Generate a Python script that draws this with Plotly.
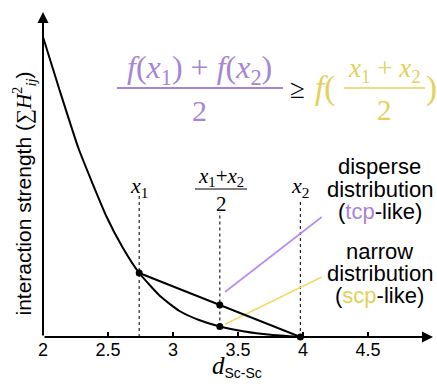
import plotly.graph_objects as go

# ---- data ----
d_curve = [2.0, 2.12, 2.275, 2.49, 2.615, 2.74, 2.9, 3.05, 3.2, 3.36, 3.55, 3.75, 3.98]
strength = [300, 250, 188, 120, 89, 64, 41, 26, 17, 10.5, 5.5, 2.2, 0]

x1 = 2.74
x2 = 3.98
f_x1 = 64
f_x2 = 0
f_mid = 10.5

x_ticks = [2, 2.5, 3, 3.5, 4, 4.5]
x_tick_text = ["2", "2.5", "3", "3.5", "4", "4.5"]

purple_leader_x = [3.40, 4.144]
purple_leader_y = [45, 120]
yellow_leader_x = [3.40, 4.144]
yellow_leader_y = [12.7, 60]

x_mid = (x1 + x2) / 2
chord_mid = (f_x1 + f_x2) / 2

PURPLE = "#a685d6"
YELLOW = "#e2d15a"
SANS = "Liberation Sans"
SERIF = "Liberation Serif"

fig = go.Figure()

# dotted guide lines
for xv, top, bottom in [(x1, 144, 0), (x_mid, 125, f_mid), (x2, 137, 0)]:
    fig.add_trace(go.Scatter(x=[xv, xv], y=[bottom, top], mode="lines",
                             line=dict(color="#222", width=1.2, dash="dot"),
                             hoverinfo="skip", cliponaxis=False))

# leader lines
fig.add_trace(go.Scatter(x=purple_leader_x, y=purple_leader_y, mode="lines",
                         line=dict(color="#b78cf2", width=1.6), hoverinfo="skip"))
fig.add_trace(go.Scatter(x=yellow_leader_x, y=yellow_leader_y, mode="lines",
                         line=dict(color="#f6d86a", width=1.6), hoverinfo="skip"))

# curve
fig.add_trace(go.Scatter(x=d_curve, y=strength, mode="lines",
                         line=dict(color="black", width=2, shape="spline", smoothing=0.5),
                         cliponaxis=False, hoverinfo="skip"))
# chord
fig.add_trace(go.Scatter(x=[x1, x2], y=[f_x1, f_x2], mode="lines",
                         line=dict(color="black", width=2), cliponaxis=False, hoverinfo="skip"))
# points
fig.add_trace(go.Scatter(x=[x1, x_mid, x_mid, x2], y=[f_x1, chord_mid, f_mid, f_x2],
                         mode="markers", marker=dict(color="black", size=7),
                         cliponaxis=False, hoverinfo="skip"))

ann = []
# axes with arrows
ann.append(dict(x=5.0, y=0, ax=2, ay=0, axref="x", ayref="y", xref="x", yref="y",
                text="", showarrow=True, arrowhead=2, arrowsize=1.1, arrowwidth=2, arrowcolor="black"))
ann.append(dict(x=2, y=325, ax=2, ay=0, axref="x", ayref="y", xref="x", yref="y",
                text="", showarrow=True, arrowhead=2, arrowsize=1.1, arrowwidth=2, arrowcolor="black"))


def txt(x, y, text, size, color="black", family=SERIF, ref="x", **kw):
    d = dict(x=x, y=y, xref="x" if ref == "x" else "paper", yref="y" if ref == "x" else "paper",
             text=text, showarrow=False,
             font=dict(size=size, color=color, family=family),
             xanchor="center", yanchor="middle")
    d.update(kw)
    ann.append(d)


# axis titles (paper coordinates, outside the plot area)
txt(-0.0487, 0.4415,
    "interaction strength (<span style=\"font-family:Liberation Serif\">∑<i>H</i><sup>2</sup><sub><i>ij</i></sub></span>)",
    21, family=SANS, ref="paper", textangle=-90)
txt(0.4987, -0.0923,
    "<i>d</i><span style=\"font-family:Liberation Sans;font-size:20px\"><sub>Sc-Sc</sub></span>",
    25, ref="paper")

# x1, mid, x2 labels
txt(x1, 150, "<i>x</i><sub>1</sub>", 22)
txt(x2, 150, "<i>x</i><sub>2</sub>", 22)
txt(x_mid + 0.01, 160, "<i>x</i><sub>1</sub>+<i>x</i><sub>2</sub>", 21)
txt(x_mid + 0.01, 133, "2", 21)

# big formula
txt(3.204, 268, "<i>f</i>(<i>x</i><sub>1</sub>) + <i>f</i>(<i>x</i><sub>2</sub>)", 32, color=PURPLE)
txt(3.204, 227, "2", 30, color=PURPLE)
txt(3.958, 248, "≥", 27)
txt(4.172, 249, "<i>f</i>(", 33, color=YELLOW)
txt(4.626, 267, "<i>x</i><sub>1</sub> + <i>x</i><sub>2</sub>", 27, color=YELLOW)
txt(4.626, 227, "2", 29, color=YELLOW)
txt(4.985, 249, ")", 33, color=YELLOW)

# right side labels
txt(4.592, 171, "disperse", 22, family=SANS)
txt(4.592, 148, "distribution", 22, family=SANS)
txt(4.592, 126, "(<span style=\"color:%s\">tcp</span>-like)" % PURPLE, 22, family=SANS)
txt(4.592, 86, "narrow", 22, family=SANS)
txt(4.592, 64, "distribution", 22, family=SANS)
txt(4.592, 42, "(<span style=\"color:%s\">scp</span>-like)" % YELLOW, 22, family=SANS)

shapes = [
    dict(type="line", xref="x", yref="y", x0=2.569, x1=3.846, y0=249, y1=249,
         line=dict(color=PURPLE, width=2)),
    dict(type="line", xref="x", yref="y", x0=4.315, x1=4.938, y0=249, y1=249,
         line=dict(color=YELLOW, width=1.5)),
    dict(type="line", xref="x", yref="y", x0=3.169, x1=3.569, y0=148, y1=148,
         line=dict(color="black", width=1)),
]

fig.update_layout(
    width=437, height=386,
    margin=dict(l=43, r=4, t=12, b=49),
    paper_bgcolor="white", plot_bgcolor="white",
    showlegend=False,
    annotations=ann, shapes=shapes,
    xaxis=dict(range=[2, 5], tickvals=x_ticks, ticktext=x_tick_text,
               ticks="inside", ticklen=5, tickwidth=1.5, tickcolor="black",
               tickfont=dict(size=18, family=SANS, color="black"),
               showgrid=False, zeroline=False, showline=False),
    yaxis=dict(range=[0, 325], showticklabels=False, ticks="",
               showgrid=False, zeroline=False, showline=False),
)

fig.write_html("out.html")
